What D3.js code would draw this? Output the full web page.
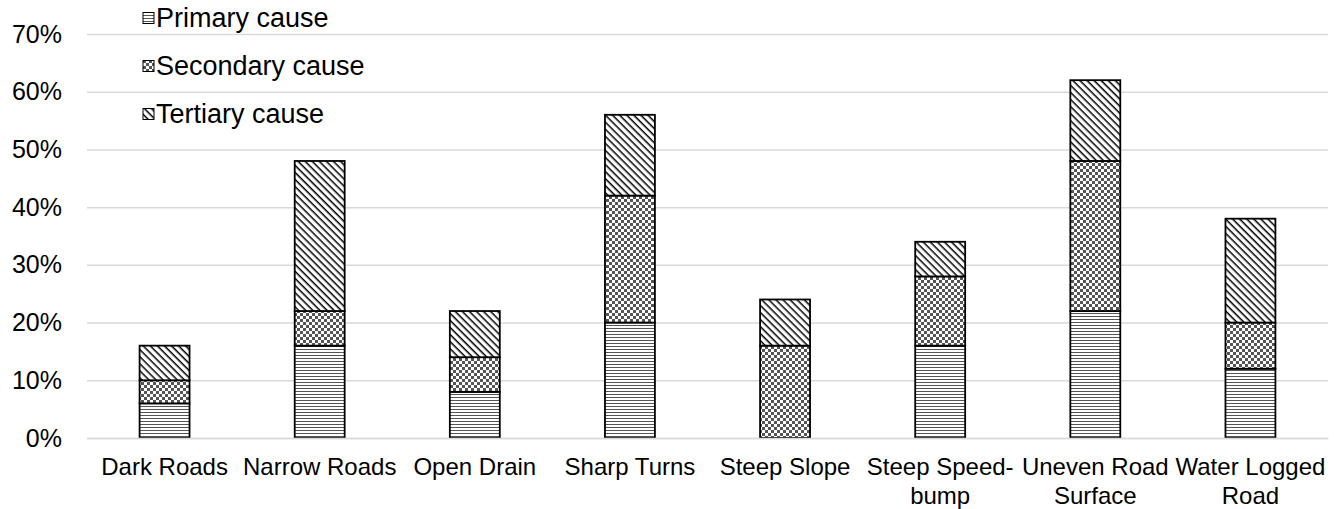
<!DOCTYPE html>
<html>
<head>
<meta charset="utf-8">
<script src="https://cdn.jsdelivr.net/npm/d3@7/dist/d3.min.js"></script>
<style>
  html, body { margin: 0; padding: 0; background: #fff; }
  svg { display: block; font-family: "Liberation Sans", Arial, sans-serif; }
</style>
</head>
<body>
<svg id="chart" width="1342" height="509"></svg>
<script>
// Road-condition causes, share of respondents (%)
const categories = ["Dark Roads", "Narrow Roads", "Open Drain", "Sharp Turns",
  "Steep Slope", "Steep Speed-bump", "Uneven Road Surface", "Water Logged Road"];
const categoryLines = [["Dark Roads"], ["Narrow Roads"], ["Open Drain"], ["Sharp Turns"],
  ["Steep Slope"], ["Steep Speed-", "bump"], ["Uneven Road", "Surface"], ["Water Logged", "Road"]];
const seriesNames = ["Primary cause", "Secondary cause", "Tertiary cause"];
const primary   = [6, 16, 8, 20, 0, 16, 22, 12];
const secondary = [4, 6, 6, 22, 16, 12, 26, 8];
const tertiary  = [6, 26, 8, 14, 8, 6, 14, 18];
const yTicks = [0, 10, 20, 30, 40, 50, 60, 70];

const svg = d3.select("#chart");
const W = 1342, H = 509;
const margin = { top: 34, right: 14, bottom: 71, left: 87 };
const innerW = W - margin.left - margin.right;
const innerH = H - margin.top - margin.bottom;

// Fill patterns
const defs = svg.append("defs");
const pH = defs.append("pattern").attr("id", "pat-h").attr("patternUnits", "userSpaceOnUse")
  .attr("width", 4).attr("height", 3);
pH.append("rect").attr("width", 4).attr("height", 3).attr("fill", "#fff");
pH.append("rect").attr("width", 4).attr("height", 1).attr("fill", "#555");

const pC = defs.append("pattern").attr("id", "pat-c").attr("patternUnits", "userSpaceOnUse")
  .attr("width", 6).attr("height", 6);
pC.append("rect").attr("width", 6).attr("height", 6).attr("fill", "#fff");
pC.append("rect").attr("width", 3).attr("height", 3).attr("fill", "#555");
pC.append("rect").attr("x", 3).attr("y", 3).attr("width", 3).attr("height", 3).attr("fill", "#555");

const pD = defs.append("pattern").attr("id", "pat-d").attr("patternUnits", "userSpaceOnUse")
  .attr("width", 5).attr("height", 5).attr("patternTransform", "rotate(45)");
pD.append("rect").attr("width", 5).attr("height", 5).attr("fill", "#fff");
pD.append("rect").attr("width", 5).attr("height", 1.5).attr("fill", "#000");

const fills = ["url(#pat-h)", "url(#pat-c)", "url(#pat-d)"];

const g = svg.append("g").attr("transform", `translate(${margin.left},${margin.top})`);

const x = d3.scaleBand().domain(categories).range([0, innerW])
  .paddingInner(0.678).paddingOuter(0.339);
const y = d3.scaleLinear().domain([0, 70]).range([innerH, 0]);

// Gridlines + y labels
const yAxis = g.append("g").call(
  d3.axisLeft(y).tickValues(yTicks).tickSize(-innerW).tickPadding(25).tickFormat(d => d + "%")
);
yAxis.select(".domain").remove();
yAxis.selectAll(".tick line").attr("stroke", "#d9d9d9").attr("stroke-width", 1.5);
yAxis.selectAll(".tick text").attr("font-size", 25).attr("fill", "#000")
  .attr("font-family", "'Liberation Sans', Arial, sans-serif");

// Stacked bars
const rows = categories.map((c, i) => ({ cat: c, vals: [primary[i], secondary[i], tertiary[i]] }));
const stack = d3.stack().keys([0, 1, 2]).value((d, k) => d.vals[k]);
const layers = stack(rows);

layers.forEach((layer, k) => {
  g.append("g").selectAll("rect")
    .data(layer.filter(d => d[1] - d[0] > 0))
    .join("rect")
    .attr("x", d => x(d.data.cat))
    .attr("width", x.bandwidth())
    .attr("y", d => y(d[1]))
    .attr("height", d => y(d[0]) - y(d[1]))
    .attr("fill", fills[k])
    .attr("stroke", "#000")
    .attr("stroke-width", 1.8);
});

// Category axis
const xAxis = g.append("g").attr("transform", `translate(0,${innerH})`)
  .call(d3.axisBottom(x).tickSize(0).tickPadding(20));
xAxis.select(".domain").attr("stroke", "#d9d9d9").attr("stroke-width", 1.5);
xAxis.selectAll(".tick text").each(function(d, i) {
  const t = d3.select(this).text(null).attr("font-size", 24).attr("fill", "#000")
    .attr("font-family", "'Liberation Sans', Arial, sans-serif");
  categoryLines[i].forEach((line, j) => {
    t.append("tspan").attr("x", 0).attr("dy", j === 0 ? "0.71em" : "1.2em").text(line);
  });
});

// Legend
const legend = svg.append("g").attr("transform", "translate(143,0)");
seriesNames.forEach((name, k) => {
  const cy = 18 + k * 48;
  legend.append("rect").attr("x", 0).attr("y", cy - 5.5).attr("width", 11).attr("height", 11)
    .attr("fill", fills[k]).attr("stroke", "#000").attr("stroke-width", 1);
  legend.append("text").attr("x", 13).attr("y", cy).attr("dy", "0.35em")
    .attr("font-size", 27).attr("fill", "#000").text(name);
});
</script>
</body>
</html>
